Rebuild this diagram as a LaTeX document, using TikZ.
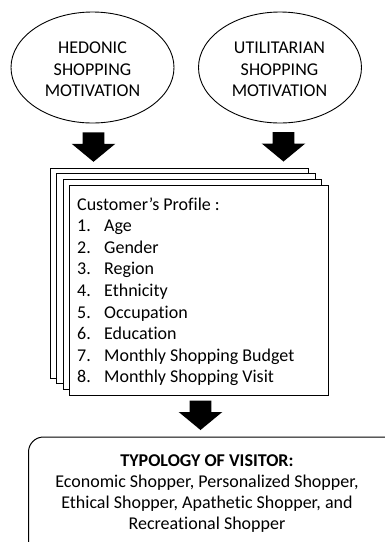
\documentclass[tikz,border=0pt]{standalone}
\usepackage{fontspec}
\setmainfont{Carlito}[Ligatures=NoCommon]
\usetikzlibrary{calc,shapes.geometric}
\begin{document}
\begin{tikzpicture}[x=1pt,y=-1pt,
  every node/.style={font=\fontsize{18}{21.3}\selectfont},
  oval/.style={draw,line width=0.9pt,ellipse,minimum width=163pt,minimum height=111pt,inner sep=0pt},
  ovaltext/.style={align=center,inner sep=0pt},
  sheet/.style={draw,line width=1pt,fill=white},
  bigbox/.style={draw,line width=1pt,rounded corners=15pt},
  listline/.style={anchor=base west,inner sep=0pt},
  centerline/.style={anchor=base,inner sep=0pt},
  blockarrow/.pic={\fill[black] (-10.8,0) -- (10.8,0) -- (10.8,11.5) -- (21.8,11.5) -- (0,29.5) -- (-21.8,11.5) -- (-10.8,11.5) -- cycle;}]
\useasboundingbox (0,0) rectangle (385,542);
\begin{scope}
\clip (0,0) rectangle (385,542);
% ellipses
\node[oval] (hed) at (92.5,67.5) {};
\node[ovaltext] (hedt) at (92.5,69.5) {HEDONIC\\SHOPPING\\MOTIVATION};
\node[oval] (uti) at (280,67.5) {};
\node[ovaltext] (utit) at (279.5,69.5) {UTILITARIAN\\SHOPPING\\MOTIVATION};
% arrows
\pic at (93.5,132.3) {blockarrow};
\pic at (283.5,132) {blockarrow};
\pic at (200.5,400.5) {blockarrow};
% stacked sheets
\coordinate (p1) at (50,168);
\coordinate (p2) at (56.5,173.7);
\coordinate (p3) at (63,179.4);
\coordinate (p4) at (69.5,185);
\foreach \p in {p1,p2,p3} {\draw[sheet] (\p) rectangle ++(258.5,210);}
\draw[sheet] (p4) rectangle ++(258.5,210) coordinate (pbr);
\node[listline] (l0) at (77,210) {Customer’s Profile :};
\foreach \n/\t [count=\i] in {1/Age,2/Gender,3/Region,4/Ethnicity,5/Occupation,6/Education,7/Monthly Shopping Budget,8/Monthly Shopping Visit}{
  \node[listline] (n\i) at (77,{210+21.6*\i}) {\n.};
  \node[listline] (l\i) at (104,{210+21.6*\i}) {\t};
}
% bottom box
\draw[bigbox] (28.5,437) rectangle (400,600);
\node[centerline] (typ) at (207,466) {\textbf{TYPOLOGY OF VISITOR:}};
\node[centerline] (t1) at (207,487) {Economic Shopper, Personalized Shopper,};
\node[centerline] (t2) at (207,508) {Ethical Shopper, Apathetic Shopper, and};
\node[centerline] (t3) at (207,529) {Recreational Shopper};
\end{scope}
\end{tikzpicture}
\end{document}
